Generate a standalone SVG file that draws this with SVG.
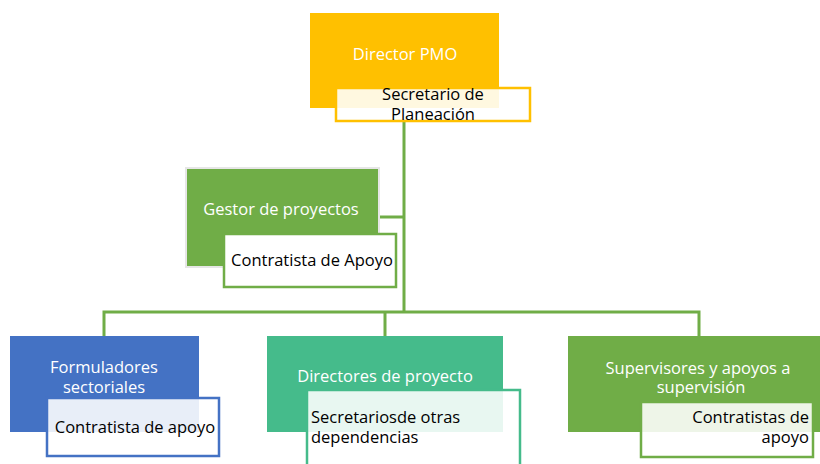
<svg xmlns="http://www.w3.org/2000/svg" width="820" height="464" viewBox="0 0 820 464">
<style>
text{font-family:"Open Sans","Noto Sans","Liberation Sans",sans-serif;font-size:16.5px}
.w{fill:#fff}
.k{fill:#000}
.c{text-anchor:middle}
.e{text-anchor:end}
.sub{fill:#fff;fill-opacity:0.88;stroke-width:2.5}
.conn{stroke:#70AD47;stroke-width:3;fill:none}
</style>
<rect width="820" height="464" fill="#fff"/>
<g id="connectors">
<path class="conn" d="M404 122V312M379 217H404M104 336V312H699V336M385 312V336"/>
</g>
<g id="director">
<rect x="310" y="13" width="189" height="95" fill="#FFC000"/>
<text class="w c" x="405" y="60">Director PMO</text>
<rect class="sub" x="336" y="88" width="194" height="33" stroke="#FFC000"/>
<text class="k c" x="433" y="100">Secretario de</text>
<text class="k c" x="433" y="120">Planeación</text>
</g>
<g id="gestor">
<rect x="186" y="168" width="193" height="99" fill="#70AD47" stroke="#E6E6E6" stroke-width="2"/>
<text class="w c" x="281" y="215">Gestor de proyectos</text>
<rect x="224" y="234" width="172" height="53" fill="#fff" stroke="#70AD47" stroke-width="2.5"/>
<text class="k c" x="312" y="266">Contratista de Apoyo</text>
</g>
<g id="formuladores">
<rect x="10" y="336" width="189" height="96" fill="#4472C4"/>
<text class="w c" x="104" y="373">Formuladores</text>
<text class="w c" x="104" y="393">sectoriales</text>
<rect class="sub" x="47" y="398" width="172" height="58" stroke="#4472C4"/>
<text class="k c" x="135" y="433">Contratista de apoyo</text>
</g>
<g id="directores">
<rect x="267" y="336" width="236" height="96" fill="#45BB8B"/>
<text class="w c" x="385" y="382">Directores de proyecto</text>
<rect class="sub" x="307" y="390" width="213" height="80" stroke="#45BB8B"/>
<text class="k" x="311" y="423">Secretariosde otras</text>
<text class="k" x="311" y="443">dependencias</text>
</g>
<g id="supervisores">
<rect x="568" y="336" width="260" height="96" fill="#70AD47"/>
<text class="w c" x="698" y="374">Supervisores y apoyos a</text>
<text class="w c" x="701" y="393">supervisión</text>
<rect class="sub" x="641" y="402" width="172" height="55" stroke="#70AD47"/>
<text class="k e" x="809" y="423">Contratistas de</text>
<text class="k e" x="809" y="443">apoyo</text>
</g>
</svg>
